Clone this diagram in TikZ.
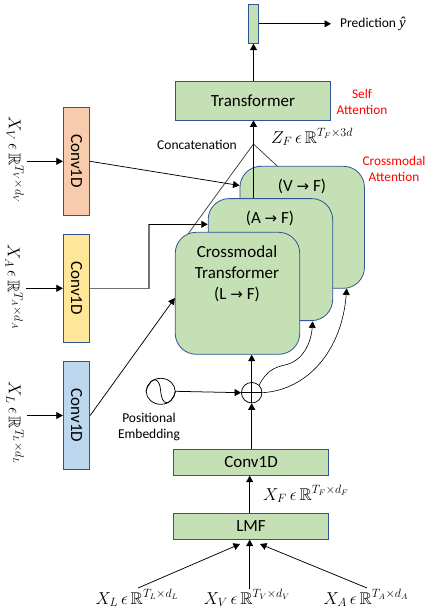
\documentclass[tikz,border=0pt]{standalone}
\usepackage{fontspec}
\usepackage{amssymb}
\setmainfont{Carlito}
\newfontfamily\arrowfont{DejaVu Sans}
\newfontfamily\yfont{Liberation Serif}
\usetikzlibrary{arrows.meta,calc,shapes.geometric}
\pgfdeclarelayer{lines}\pgfdeclarelayer{far}\pgfdeclarelayer{mid}
\pgfsetlayers{lines,far,mid,main}
\definecolor{bgreen}{HTML}{C5E0B4}
\definecolor{bline}{HTML}{2F5597}
\definecolor{bpeach}{HTML}{F8CBAD}
\definecolor{byellow}{HTML}{FFE699}
\definecolor{bblue}{HTML}{BDD7EE}
\newcommand{\toF}{{\arrowfont\fontsize{15}{15}\selectfont →}}
\tikzset{
  x=1pt,y=-1pt,
  box/.style={draw=bline,line width=0.8pt,inner sep=0pt,align=center,font=\fontsize{17}{20}\selectfont},
  greenbox/.style={box,fill=bgreen},
  cross/.style={greenbox,rounded corners=21pt,minimum width=124.5pt,minimum height=122pt,text depth=0pt},
  convv/.style={box,minimum width=26.5pt,minimum height=108pt},
  arr/.style={-{Triangle[length=6.5pt,width=7pt]},line width=0.75pt,black},
  plain/.style={line width=0.75pt,black!75},
  lab/.style={inner sep=0pt,font=\fontsize{13.5}{16}\selectfont,align=center},
  redlab/.style={inner sep=0pt,text=red,font=\fontsize{13.3}{16}\selectfont,align=center},
  mathlab/.style={inner sep=0pt,font=\fontsize{17}{20}\selectfont},
}
\begin{document}
\begin{tikzpicture}
\useasboundingbox (0,0) rectangle (432,616);
% output block and upper transformer
\node[greenbox,minimum width=10.5pt,minimum height=39pt] (out) at (253.5,23.8) {};
\node[greenbox,minimum width=155.5pt,minimum height=39pt] (trans) at (253,100.5) {Transformer};
% crossmodal stack
\begin{pgfonlayer}{far}
\node[cross] (vbox) at (302.2,227.3) {};
\end{pgfonlayer}
\node[cross] (abox) at (270.4,259.6) {};
\node[cross] (lbox) at (237.5,293.3) {};
\node[inner sep=0pt,font=\fontsize{17}{20}\selectfont] (vtext) at (302,186) {(V \toF\ F)};
\node[inner sep=0pt,font=\fontsize{17}{20}\selectfont] (atext) at (270,218) {(A \toF\ F)};
\node[inner sep=0pt,align=center,font=\fontsize{17}{21}\selectfont] (ltext) at (237,273.5) {Crossmodal\\Transformer\\(L \toF\ F)};
% conv columns
\node[convv,fill=bpeach] (cv) at (76.5,161.3) {\rotatebox{-90}{Conv1D}};
\node[convv,fill=byellow] (ca) at (76.5,288.3) {\rotatebox{-90}{Conv1D}};
\node[convv,fill=bblue] (cl) at (76.5,415.5) {\rotatebox{-90}{Conv1D}};
% lower blocks
\node[greenbox,minimum width=155.5pt,minimum height=26pt] (conv) at (251,462.3) {Conv1D};
\node[greenbox,minimum width=155.5pt,minimum height=26pt] (lmf) at (251,526.3) {LMF};
% sum and positional symbol
\node[draw=black,line width=0.75pt,circle,minimum size=20.5pt,inner sep=0pt] (sum) at (251.7,392.7) {};
\draw[line width=0.75pt] (sum.north) -- (sum.south) (sum.west) -- (sum.east);
\node[draw=black,line width=0.75pt,ellipse,minimum width=29pt,minimum height=26pt,inner sep=0pt] (pos) at (160.7,391.3) {};
\draw[line width=0.75pt] (pos.west) .. controls (152,374) and (160,378) .. (160.7,391.3) .. controls (161.5,405) and (170,408) .. (pos.east);
% free ends
\coordinate (apex) at (253.5,144);
\coordinate (cvin) at (27,161.3);
\coordinate (cain) at (26,288.3);
\coordinate (clin) at (27,415.5);
\coordinate (bend1) at (149,288.3);
\coordinate (bend2) at (149,224.3);
\coordinate (xl) at (138,588);
\coordinate (xv) at (249.7,589);
\coordinate (xa) at (367,588);
\coordinate (predend) at (331,23.8);
% connectors
\begin{pgfonlayer}{lines}
\draw[plain] (apex) -- (278,166.8);
\draw[plain] (apex) -- (188,234);
\end{pgfonlayer}
\begin{pgfonlayer}{mid}
\draw[arr] (abox.north -| apex) -- (trans.south -| apex);
\end{pgfonlayer}
\draw[arr] (trans.north -| apex) -- (out.south -| apex);
\draw[arr] (out.east) -- (predend);
\draw[arr] (cvin) -- (cv.west);
\draw[arr] (cain) -- (ca.west);
\draw[arr] (clin) -- (cl.west);
\draw[arr] (cv.east) -- (vbox.west |- 0,185.5);
\draw[line width=1.1pt,black!55] (ca.east) -- (bend1) -- (bend2);
\draw[arr] (bend2) -- (abox.west |- bend2);
\draw[arr] (cl.east) -- (lbox.west |- 0,298);
\draw[arr] (pos.east) -- (sum.west);
\draw[arr] (sum.north) -- (lbox.south -| sum);
\draw[arr] (conv.north -| sum) -- (sum.south);
\draw[arr] (lmf.north -| xv) -- (conv.south -| xv);
\draw[arr] (xv) -- (lmf.south -| xv);
\draw[arr] (xl) -- (240,544);
\draw[arr] (xa) -- (260,544);
\draw[arr,line width=0.6pt] (sum.45) .. controls (266,371) and (275,367) .. (285,365) .. controls (303,361) and (311,343) .. (312.7,321.4);
\draw[arr,line width=0.6pt] (sum.east) .. controls (308,390) and (342,350) .. (346.7,288.4);
% labels
\node[lab,anchor=west] (pred) at (340,24) {Prediction {\yfont\itshape\fontsize{15}{16}\selectfont ŷ}};
\node[redlab] (self) at (362,102) {Self\\Attention};
\node[redlab] (crossl) at (394,169) {Crossmodal\\Attention};
\node[lab] (concat) at (197,144.5) {Concatenation};
\node[mathlab] (zf) at (312,137) {$Z_F\,\epsilon\,\mathbb{R}^{T_F\times 3d}$};
\node[lab] (posl) at (149,426.5) {Positional\\Embedding};
\node[mathlab] (xf) at (306,494) {$X_F\,\epsilon\,\mathbb{R}^{T_F\times d_F}$};
\node[mathlab] (xll) at (137,598) {$X_L\,\epsilon\,\mathbb{R}^{T_L\times d_L}$};
\node[mathlab] (xvl) at (247,598) {$X_V\,\epsilon\,\mathbb{R}^{T_V\times d_V}$};
\node[mathlab] (xal) at (366,598) {$X_A\,\epsilon\,\mathbb{R}^{T_A\times d_A}$};
\node[mathlab,rotate=-90] (xvr) at (15,160) {$X_V\,\epsilon\,\mathbb{R}^{T_V\times d_V}$};
\node[mathlab,rotate=-90] (xar) at (14,287) {$X_A\,\epsilon\,\mathbb{R}^{T_A\times d_A}$};
\node[mathlab,rotate=-90] (xlr) at (15,423) {$X_L\,\epsilon\,\mathbb{R}^{T_L\times d_L}$};
\end{tikzpicture}
\end{document}
